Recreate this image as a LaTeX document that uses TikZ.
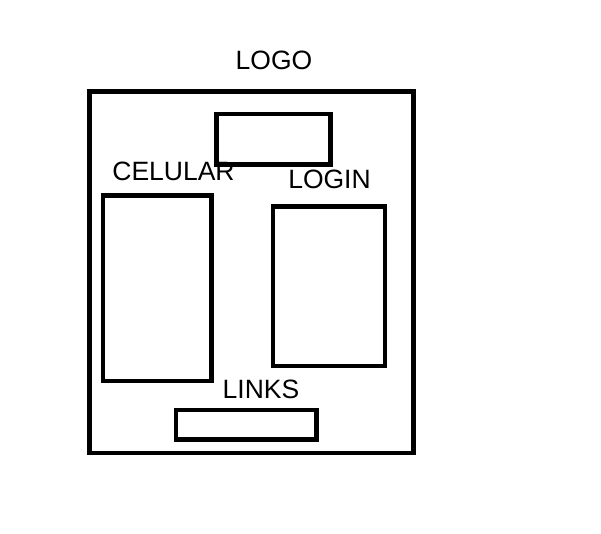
\documentclass[tikz,border=0pt]{standalone}
\usepackage{fontspec}
\setmainfont{Liberation Sans}
\usepackage{xcolor}
\definecolor{lineBlack}{HTML}{000000}
\tikzset{
frame/.style={rectangle, draw=lineBlack, line width=4.5pt, fill=none, inner sep=0pt, outer sep=0pt},
caption/.style={anchor=base, inner sep=0pt, text=lineBlack, font=\fontsize{26.5}{30}\selectfont}
}

\begin{document}
\begin{tikzpicture}[x=1pt, y=-1pt]
\useasboundingbox (0,0) rectangle (601,534);
% page frame and boxes
\node[frame, minimum width=324pt, minimum height=361.5pt] (page) at (251.5,272.25) {};
\node[frame, minimum width=114pt, minimum height=50.5pt] (logo) at (273.5,139.25) {};
\node[frame, minimum width=108.5pt, minimum height=185.3pt] (celular) at (157.25,288.35) {};
\node[frame, minimum width=112pt, minimum height=159.3pt] (login) at (329,286.35) {};
\node[frame, minimum width=140.5pt, minimum height=29.7pt] (links) at (246.25,424.85) {};
% captions
\node[caption] (logoText) at (274,70) {LOGO};
\node[caption] (celularText) at (173.5,181) {CELULAR};
\node[caption] (loginText) at (329.5,189) {LOGIN};
\node[caption] (linksText) at (261,398) {LINKS};
\end{tikzpicture}
\end{document}
